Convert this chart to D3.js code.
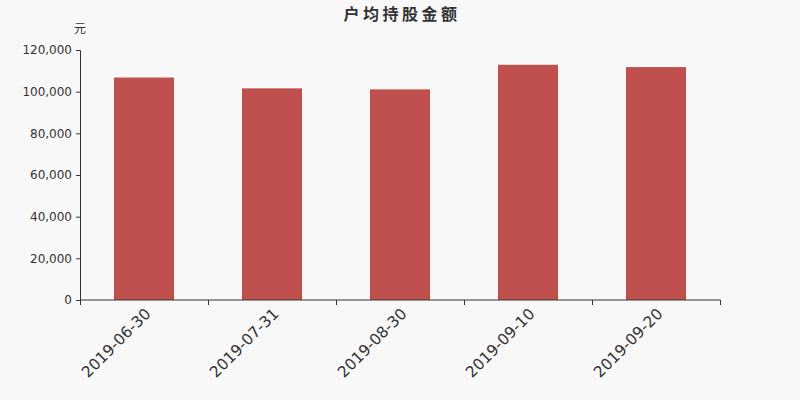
<!DOCTYPE html>
<html lang="zh">
<head>
<meta charset="UTF-8" />
<script src="https://d3js.org/d3.v7.min.js"></script>
<style>
  body { margin: 0; background: #f8f8f8; }
  svg text { font-family: "DejaVu Sans", sans-serif; }
</style>
</head>
<body>
<svg id="chart" width="800" height="400"></svg>
<script>
const dates = ['2019-06-30', '2019-07-31', '2019-08-30', '2019-09-10', '2019-09-20'];
const amounts = [106800, 101600, 101100, 112900, 111800];
const yTicks = [0, 20000, 40000, 60000, 80000, 100000, 120000];

const svg = d3.select('#chart');
const width = +svg.attr('width');
const height = +svg.attr('height');

const margin = { top: 50, right: 80, bottom: 100, left: 80 };
const innerWidth = width - margin.left - margin.right;
const innerHeight = height - margin.top - margin.bottom;

svg.append('rect')
  .attr('width', width)
  .attr('height', height)
  .attr('fill', '#f8f8f8');

const xScale = d3.scaleBand()
  .domain(dates)
  .range([0, innerWidth]);

const yScale = d3.scaleLinear()
  .domain([0, 120000])
  .range([innerHeight, 0]);

const g = svg.append('g')
  .attr('transform', `translate(${margin.left},${margin.top})`);

// bars
const barWidth = 60;
g.selectAll('rect.bar').data(dates)
  .enter().append('rect')
  .attr('class', 'bar')
  .attr('x', d => xScale(d) + (xScale.bandwidth() - barWidth) / 2)
  .attr('y', (d, i) => yScale(amounts[i]))
  .attr('width', barWidth)
  .attr('height', (d, i) => innerHeight - yScale(amounts[i]))
  .attr('fill', '#c0504d');

// y axis
const yAxis = d3.axisLeft(yScale)
  .tickValues(yTicks)
  .tickSize(4)
  .tickPadding(4)
  .tickFormat(d3.format(','));

const yAxisG = g.append('g').call(yAxis);
yAxisG.select('.domain').attr('stroke', '#333').attr('d', `M-4,0.5H0.5V${innerHeight}`);
yAxisG.selectAll('.tick line').attr('stroke', '#333');
yAxisG.selectAll('.tick text')
  .attr('fill', '#333')
  .style('font-family', '"DejaVu Sans", sans-serif')
  .style('font-size', '12px');

// x axis
const xAxis = d3.axisBottom(xScale)
  .tickSize(0)
  .tickFormat('');

const xAxisG = g.append('g')
  .attr('transform', `translate(0,${innerHeight})`)
  .call(xAxis);
xAxisG.select('.domain').attr('stroke', '#333').attr('d', `M0.5,0H${innerWidth + 0.5}`);

// boundary ticks between categories
const boundaries = dates.map(d => xScale(d)).concat([innerWidth]);
xAxisG.selectAll('line.bound').data(boundaries)
  .enter().append('line')
  .attr('class', 'bound')
  .attr('x1', d => d + 0.5)
  .attr('x2', d => d + 0.5)
  .attr('y1', 0)
  .attr('y2', 5)
  .attr('stroke', '#333');

xAxisG.selectAll('text.xlabel').data(dates)
  .enter().append('text')
  .attr('class', 'xlabel')
  .attr('transform', d => `translate(${xScale(d) + xScale.bandwidth() / 2},${7}) rotate(-45)`)
  .attr('text-anchor', 'end')
  .attr('dy', '0.7em')
  .attr('fill', '#333')
  .style('font-family', '"DejaVu Sans", sans-serif')
  .style('font-size', '15.5px')
  .text(d => d);

// unit label
svg.append('text')
  .attr('x', 80)
  .attr('y', 33)
  .attr('text-anchor', 'middle')
  .attr('fill', '#333')
  .style('font-family', '"Noto Sans CJK SC", sans-serif')
  .style('font-size', '12px')
  .text('元');

// title
svg.append('text')
  .attr('x', width / 2 + 2)
  .attr('y', 20)
  .attr('text-anchor', 'middle')
  .attr('fill', '#333')
  .style('font-family', '"Noto Sans CJK SC", sans-serif')
  .style('font-size', '16px')
  .style('font-weight', 'bold')
  .style('letter-spacing', '3.5px')
  .text('户均持股金额');
</script>
</body>
</html>
